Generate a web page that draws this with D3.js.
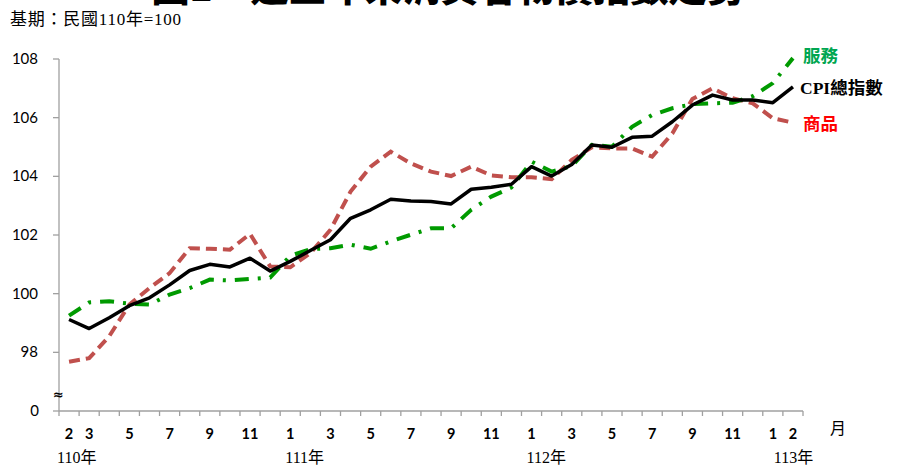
<!DOCTYPE html>
<html>
<head>
<meta charset="utf-8">
<script src="https://cdn.jsdelivr.net/npm/d3@7"></script>
<style>
  body { margin: 0; background: #fff; }
  svg { display: block; }
  .monthLabel { font-family: Lato, "Open Sans", sans-serif; font-weight: bold; font-size: 14.5px; }
  .serifText { font-family: "Liberation Serif", "Noto Sans CJK TC", serif; }
  .yLabel { font-family: Lato, "Open Sans", sans-serif; font-size: 15px; }
</style>
</head>
<body>
<div id="chart"></div>
<script>
// Month labels for every point (110/2 .. 113/2), blanks are unlabeled months
var months = ["2","3","","5","","7","","9","","11","","1","","3","","5","","7","","9","","11","","1","","3","","5","","7","","9","","11","","1","2"];
var years = [
  { label: "110年", index: 0, dx: -7 },
  { label: "111年", index: 11, dx: 0 },
  { label: "112年", index: 23, dx: 0 },
  { label: "113年", index: 35, dx: 6 }
];

// CPI index values (base 110 = 100)
var cpiTotal = [99.12, 98.81, 99.18, 99.59, 99.86, 100.30, 100.79, 101.00, 100.91, 101.21, 100.77, 101.10,
  101.47, 101.84, 102.57, 102.86, 103.22, 103.16, 103.14, 103.06, 103.56, 103.63, 103.73, 104.33,
  104.01, 104.40, 105.07, 104.99, 105.33, 105.37, 105.86, 106.43, 106.77, 106.60, 106.60, 106.51, 107.05];
var cpiGoods = [97.68, 97.80, 98.55, 99.63, 100.19, 100.70, 101.55, 101.53, 101.50, 102.04, 100.93, 100.90,
  101.38, 102.18, 103.48, 104.33, 104.84, 104.44, 104.16, 104.01, 104.33, 104.03, 103.97, 103.97,
  103.90, 104.56, 104.99, 104.95, 104.95, 104.67, 105.46, 106.64, 107.00, 106.66, 106.49, 105.98, 105.83];
var cpiServices = [99.25, 99.70, 99.74, 99.66, 99.63, 99.97, 100.19, 100.48, 100.45, 100.50, 100.55, 101.29,
  101.52, 101.55, 101.67, 101.53, 101.78, 102.01, 102.23, 102.23, 102.86, 103.31, 103.62, 104.50,
  104.16, 104.35, 105.07, 105.01, 105.69, 106.09, 106.32, 106.46, 106.49, 106.51, 106.73, 107.18, 108.03];

var yTicks = [98, 100, 102, 104, 106, 108];

var svgWidth = 899;
var svgHeight = 466;

var svg = d3.select("#chart")
  .append("svg")
  .attr("width", svgWidth)
  .attr("height", svgHeight);

// scales
var xScale = d3.scaleBand()
  .domain(d3.range(months.length))
  .range([59, 803]);

var yScale = d3.scaleLinear()
  .domain([96, 108])
  .range([411, 59]);

var xCenter = function(i) { return xScale(i) + xScale.bandwidth() / 2; };

// title (cut off at top, as in the source)
svg.append("text")
  .attr("x", 448)
  .attr("y", 1)
  .attr("text-anchor", "middle")
  .attr("font-family", "'Noto Sans CJK TC', sans-serif")
  .attr("font-weight", "900")
  .attr("font-size", "38px")
  .text("圖1　近三年來消費者物價指數走勢");

svg.append("text")
  .attr("class", "serifText")
  .attr("x", 10)
  .attr("y", 25)
  .attr("font-size", "17px")
  .attr("textLength", 171)
  .text("基期：民國110年=100");

// y axis
var axisColor = "#a0a0a0";
svg.append("line")
  .attr("x1", 59).attr("x2", 59)
  .attr("y1", yScale(108)).attr("y2", yScale(96))
  .attr("stroke", axisColor)
  .attr("stroke-width", 1.3);

svg.selectAll(".yTick")
  .data(yTicks.concat([96]))
  .enter()
  .append("line")
  .attr("class", "yTick")
  .attr("x1", 53).attr("x2", 59)
  .attr("y1", d => yScale(d)).attr("y2", d => yScale(d))
  .attr("stroke", axisColor)
  .attr("stroke-width", 1.3);

svg.selectAll(".yLabel")
  .data(yTicks)
  .enter()
  .append("text")
  .attr("class", "yLabel")
  .attr("x", 38)
  .attr("y", d => yScale(d) + 5)
  .attr("text-anchor", "end")
  .text(d => d);

svg.append("text")
  .attr("class", "yLabel")
  .attr("x", 39)
  .attr("y", yScale(96) + 5)
  .attr("text-anchor", "end")
  .text("0");

svg.append("text")
  .attr("x", 53)
  .attr("y", 399)
  .attr("font-family", "'DejaVu Sans', sans-serif")
  .attr("font-size", "13px")
  .attr("font-weight", "bold")
  .text("≈");

// x axis
svg.append("line")
  .attr("x1", 59).attr("x2", 803)
  .attr("y1", 411).attr("y2", 411)
  .attr("stroke", axisColor)
  .attr("stroke-width", 1.3);

var tickPositions = d3.range(months.length).map(i => xScale(i)).concat([xScale.range()[1]]);
svg.selectAll(".xTick")
  .data(tickPositions)
  .enter()
  .append("line")
  .attr("class", "xTick")
  .attr("x1", d => d).attr("x2", d => d)
  .attr("y1", 411).attr("y2", 416)
  .attr("stroke", axisColor)
  .attr("stroke-width", 1.3);

svg.selectAll(".monthLabel")
  .data(months)
  .enter()
  .append("text")
  .attr("class", "monthLabel")
  .attr("x", (d, i) => xCenter(i))
  .attr("y", 439)
  .attr("text-anchor", "middle")
  .text(d => d);

svg.append("text")
  .attr("class", "serifText")
  .attr("x", 830)
  .attr("y", 434)
  .attr("font-size", "16px")
  .text("月");

svg.selectAll(".yearLabel")
  .data(years)
  .enter()
  .append("text")
  .attr("class", "serifText")
  .attr("x", d => xCenter(d.index) - 5 + d.dx)
  .attr("y", 463)
  .attr("font-size", "16px")
  .text(d => d.label);

// lines
var line = d3.line()
  .x((d, i) => xCenter(i))
  .y(d => yScale(d));

svg.append("path")
  .datum(cpiGoods)
  .attr("fill", "none")
  .attr("stroke", "#c0504d")
  .attr("stroke-width", 4)
  .attr("stroke-dasharray", "11,6")
  .attr("d", line);

svg.append("path")
  .datum(cpiServices)
  .attr("fill", "none")
  .attr("stroke", "#009a00")
  .attr("stroke-width", 4)
  .attr("stroke-dasharray", "14,9,3,9")
  .attr("d", line);

svg.append("path")
  .datum(cpiTotal)
  .attr("fill", "none")
  .attr("stroke", "#000")
  .attr("stroke-width", 3.5)
  .attr("stroke-linejoin", "round")
  .attr("d", line);

// series labels
var seriesLabels = [
  { text: "服務", color: "#00a651", y: 62 },
  { text: "CPI總指數", color: "#000", y: 94 },
  { text: "商品", color: "#ff0000", y: 130 }
];
svg.selectAll(".seriesLabel")
  .data(seriesLabels)
  .enter()
  .append("text")
  .attr("class", "serifText")
  .attr("x", (d, i) => i === 1 ? 800 : 803)
  .attr("y", d => d.y)
  .attr("font-size", "17.5px")
  .attr("font-weight", "bold")
  .attr("fill", d => d.color)
  .text(d => d.text);
</script>
</body>
</html>
